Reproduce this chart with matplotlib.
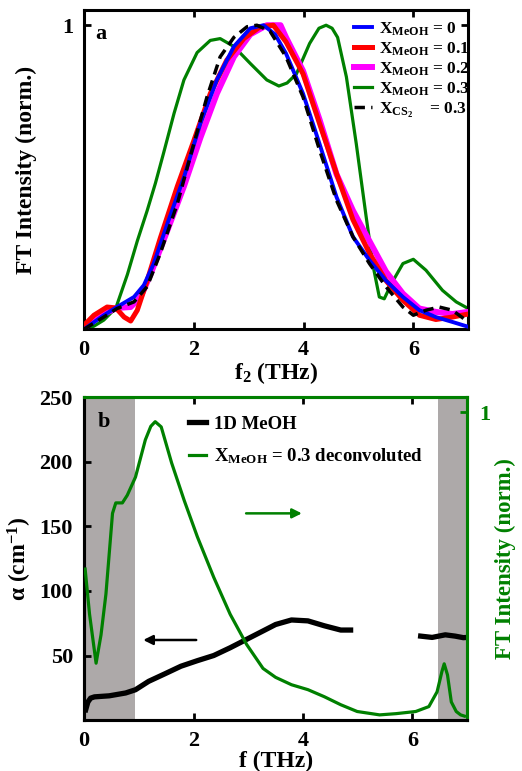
import numpy as np
import matplotlib
matplotlib.use("Agg")
import matplotlib.pyplot as plt

plt.rcParams['font.family'] = ['Liberation Serif', 'DejaVu Serif']
plt.rcParams['font.weight'] = 'bold'
plt.rcParams['mathtext.fontset'] = 'custom'
plt.rcParams['mathtext.rm'] = 'Liberation Serif:bold'
plt.rcParams['mathtext.it'] = 'Liberation Serif:bold'
plt.rcParams['mathtext.bf'] = 'Liberation Serif:bold'
plt.rcParams['mathtext.default'] = 'rm'

GREEN = '#008000'
SHADE = '#ada9a9'

# ---- panel a: normalized FT spectra ----
f_x0 = [0.0, 0.36, 0.6, 0.91, 1.09, 1.27, 1.52, 1.82, 2.12, 2.42, 2.73, 3.03, 3.27, 3.48,
        3.68, 3.99, 4.29, 4.6, 4.9, 5.2, 5.5, 5.81, 6.11, 6.41, 6.71, 7.0]
i_x0 = [0.0, 0.046, 0.073, 0.106, 0.145, 0.216, 0.348, 0.5, 0.677, 0.82, 0.93, 0.99, 1.0, 0.97,
        0.907, 0.775, 0.61, 0.435, 0.304, 0.227, 0.16, 0.106, 0.0625, 0.04, 0.024, 0.008]

f_x01 = [0.0, 0.18, 0.42, 0.58, 0.73, 0.85, 0.97, 1.15, 1.39, 1.7, 2.0, 2.3, 2.6, 2.91, 3.21, 3.45,
         3.68, 3.99, 4.29, 4.6, 4.9, 5.2, 5.5, 5.81, 6.11, 6.41, 6.71, 7.0]
i_x01 = [0.013, 0.046, 0.073, 0.07, 0.04, 0.027, 0.0625, 0.16, 0.30, 0.47, 0.62, 0.775, 0.885, 0.956,
         0.995, 1.0, 0.945, 0.84, 0.677, 0.512, 0.36, 0.25, 0.16, 0.095, 0.046, 0.032, 0.04, 0.05]

f_x02 = [0.0, 0.3, 0.6, 0.85, 1.03, 1.21, 1.52, 1.82, 2.12, 2.42, 2.73, 3.03, 3.33, 3.58,
         3.68, 3.99, 4.29, 4.6, 4.9, 5.2, 5.5, 5.81, 6.11, 6.41, 6.71, 7.0]
i_x02 = [0.008, 0.046, 0.07, 0.073, 0.106, 0.18, 0.326, 0.47, 0.63, 0.775, 0.896, 0.97, 1.0, 1.0,
         0.96, 0.85, 0.69, 0.51, 0.39, 0.29, 0.19, 0.117, 0.068, 0.057, 0.05, 0.057]

f_x03 = [0.0, 0.18, 0.36, 0.58, 0.79, 0.97, 1.15, 1.3, 1.45, 1.64, 1.82, 2.06, 2.3, 2.48, 2.73,
         3.03, 3.33, 3.55, 3.7, 3.87, 4.11, 4.28, 4.41, 4.52, 4.62, 4.78, 4.96, 5.14, 5.27, 5.38,
         5.47, 5.6, 5.81, 6.0, 6.23, 6.53, 6.78, 7.0]
i_x03 = [0.0, 0.01, 0.03, 0.07, 0.18, 0.29, 0.39, 0.48, 0.58, 0.71, 0.82, 0.91, 0.95, 0.956, 0.93,
         0.874, 0.82, 0.80, 0.81, 0.84, 0.94, 0.99, 1.0, 0.99, 0.96, 0.83, 0.61, 0.37, 0.205, 0.106,
         0.1, 0.15, 0.216, 0.23, 0.194, 0.128, 0.09, 0.068]

f_cs2 = [0.0, 0.36, 0.6, 0.91, 1.15, 1.39, 1.7, 2.0, 2.24, 2.48, 2.73, 2.97, 3.15, 3.39,
         3.68, 3.99, 4.29, 4.6, 4.9, 5.2, 5.5, 5.81, 6.0, 6.23, 6.47, 6.71, 7.0]
i_cs2 = [0.0, 0.04, 0.068, 0.09, 0.14, 0.25, 0.413, 0.61, 0.764, 0.896, 0.96, 0.995, 1.0, 0.98,
         0.896, 0.764, 0.59, 0.424, 0.304, 0.216, 0.14, 0.073, 0.046, 0.0625, 0.073, 0.0625, 0.024]

# ---- panel b: absorption and deconvoluted spectrum ----
f_alpha = [0.03, 0.07, 0.12, 0.19, 0.46, 0.76, 0.94, 1.18, 1.47, 1.77, 2.07, 2.37, 2.67, 2.97,
           3.27, 3.5, 3.79, 4.09, 4.39, 4.69, 4.87, 5.5, 6.15, 6.36, 6.6, 6.78, 6.93, 7.0]
alpha = [8, 14, 17, 18, 18.8, 21, 23.5, 30, 35.7, 41.7, 46, 50, 56, 62.5,
         69, 74, 77.5, 76.8, 73, 69.7, 69.7, np.nan, 65, 64, 66, 65, 63.8, 64]

f_dec = [0.02, 0.1, 0.22, 0.31, 0.4, 0.52, 0.58, 0.7, 0.79, 0.94, 1.12, 1.22, 1.3, 1.41, 1.6, 1.83,
         2.07, 2.37, 2.67, 2.97, 3.27, 3.5, 3.79, 4.09, 4.39, 4.69, 4.99, 5.4, 5.7, 6.06, 6.3,
         6.45, 6.54, 6.58, 6.64, 6.71, 6.8, 6.88, 6.95]
i_dec = [0.491, 0.345, 0.185, 0.277, 0.41, 0.672, 0.706, 0.706, 0.731, 0.79, 0.911, 0.955, 0.97, 0.953,
         0.836, 0.714, 0.596, 0.464, 0.344, 0.246, 0.168, 0.139, 0.115, 0.099, 0.076, 0.05, 0.028,
         0.017, 0.021, 0.028, 0.044, 0.092, 0.159, 0.183, 0.147, 0.059, 0.028, 0.017, 0.013]

shade_low = (0.0, 0.93)
shade_high = (6.47, 7.0)

fig = plt.figure(figsize=(5.22, 7.71), dpi=100)
ax1 = fig.add_axes([0.161, 0.573, 0.736, 0.414])
ax2 = fig.add_axes([0.161, 0.066, 0.734, 0.419])

TFS = 16
LFS = 17

def style_ticks(ax):
    ax.tick_params(direction='in', length=5, width=2, labelsize=TFS, pad=8)
    for lab in ax.get_xticklabels() + ax.get_yticklabels():
        lab.set_fontweight('bold')

# panel a
ax1.plot(f_x03, i_x03, color=GREEN, lw=2.3, label=r'X$_{\rm MeOH}$ = 0.3', zorder=2)
ax1.plot(f_x02, i_x02, color='#ff00ff', lw=4.3, label=r'X$_{\rm MeOH}$ = 0.2', zorder=3)
ax1.plot(f_x01, i_x01, color='#ff0000', lw=3.6, label=r'X$_{\rm MeOH}$ = 0.1', zorder=4)
ax1.plot(f_x0, i_x0, color='#0000ff', lw=2.8, label=r'X$_{\rm MeOH}$ = 0', zorder=5)
ax1.plot(f_cs2, i_cs2, color='black', lw=2.5, ls=(0, (3, 1.8)),
         label=r'X$_{\rm CS_2}$    = 0.3', zorder=6)
ax1.set_xlim(0, 7)
ax1.set_ylim(0, 1.05)
ax1.set_xticks([0, 2, 4, 6])
ax1.set_yticks([1])
ax1.tick_params(top=True, right=True)
style_ticks(ax1)
for s in ax1.spines.values():
    s.set_linewidth(2.2)
ax1.set_xlabel(r'f$_2$ (THz)', fontsize=LFS, fontweight='bold', labelpad=0)
ax1.set_ylabel('FT Intensity (norm.)', fontsize=LFS, fontweight='bold', labelpad=18)
ax1.text(0.03, 0.955, 'a', transform=ax1.transAxes, fontsize=16, fontweight='bold',
         va='top', ha='left')
h, l = ax1.get_legend_handles_labels()
order = [3, 2, 1, 0, 4]
ax1.legend([h[i] for i in order], [l[i] for i in order], loc='upper right',
           bbox_to_anchor=(1.03, 1.0), frameon=False, fontsize=12.5, handlelength=1.0,
           handletextpad=0.4, labelspacing=0.15, borderaxespad=0.2)

# panel b
ax2.axvspan(*shade_low, color=SHADE, lw=0, zorder=0)
ax2.axvspan(*shade_high, color=SHADE, lw=0, zorder=0)
ln1, = ax2.plot(f_alpha, alpha, color='black', lw=3.8, zorder=3, label='1D MeOH')
ax2.set_xlim(0, 7)
ax2.set_ylim(0, 250)
ax2.set_xticks([0, 2, 4, 6])
ax2.set_yticks([50, 100, 150, 200, 250])
ax2.tick_params(top=True, color='black')
style_ticks(ax2)
ax2.set_xlabel('f (THz)', fontsize=LFS, fontweight='bold', labelpad=0)
ax2.set_ylabel(r'$\alpha$ (cm$^{-1}$)', fontsize=LFS, fontweight='bold', labelpad=4)

ax3 = ax2.twinx()
ln2, = ax3.plot(f_dec, i_dec, color=GREEN, lw=2.3, zorder=3,
                label=r'X$_{\rm MeOH}$ = 0.3 deconvoluted')
ax3.set_ylim(0, 1.05)
ax3.set_yticks([1])
ax3.tick_params(direction='in', length=5, width=2, labelsize=TFS, colors=GREEN, pad=9)
for lab in ax3.get_yticklabels():
    lab.set_fontweight('bold')
ax3.set_ylabel('FT Intensity (norm.)', fontsize=16.5, fontweight='bold', color=GREEN,
               labelpad=3)
for name, s in ax3.spines.items():
    s.set_linewidth(2.2)
ax3.spines['left'].set_color('black')
ax3.spines['bottom'].set_color('black')
ax3.spines['top'].set_color(GREEN)
ax3.spines['right'].set_color(GREEN)
for s in ax2.spines.values():
    s.set_linewidth(2.2)
ax2.spines['top'].set_color(GREEN)
ax2.spines['right'].set_color(GREEN)
ax2.tick_params(axis='x', which='both', top=True)

ax2.text(0.035, 0.955, 'b', transform=ax2.transAxes, fontsize=16, fontweight='bold',
         va='top', ha='left', zorder=5)
ax2.annotate('', xy=(1.03, 62), xytext=(2.1, 62),
             arrowprops=dict(arrowstyle='-|>', color='black', lw=1.8, mutation_scale=14))
ax3.annotate('', xy=(4.03, 0.672), xytext=(2.91, 0.672),
             arrowprops=dict(arrowstyle='-|>', color=GREEN, lw=1.8, mutation_scale=14))
ax3.legend([ln1, ln2], [ln1.get_label(), ln2.get_label()], loc='upper left',
           bbox_to_anchor=(0.23, 0.995), frameon=False, fontsize=13.5, handlelength=0.9,
           handletextpad=0.45, labelspacing=0.75)

fig.savefig('out.png', dpi=100)
